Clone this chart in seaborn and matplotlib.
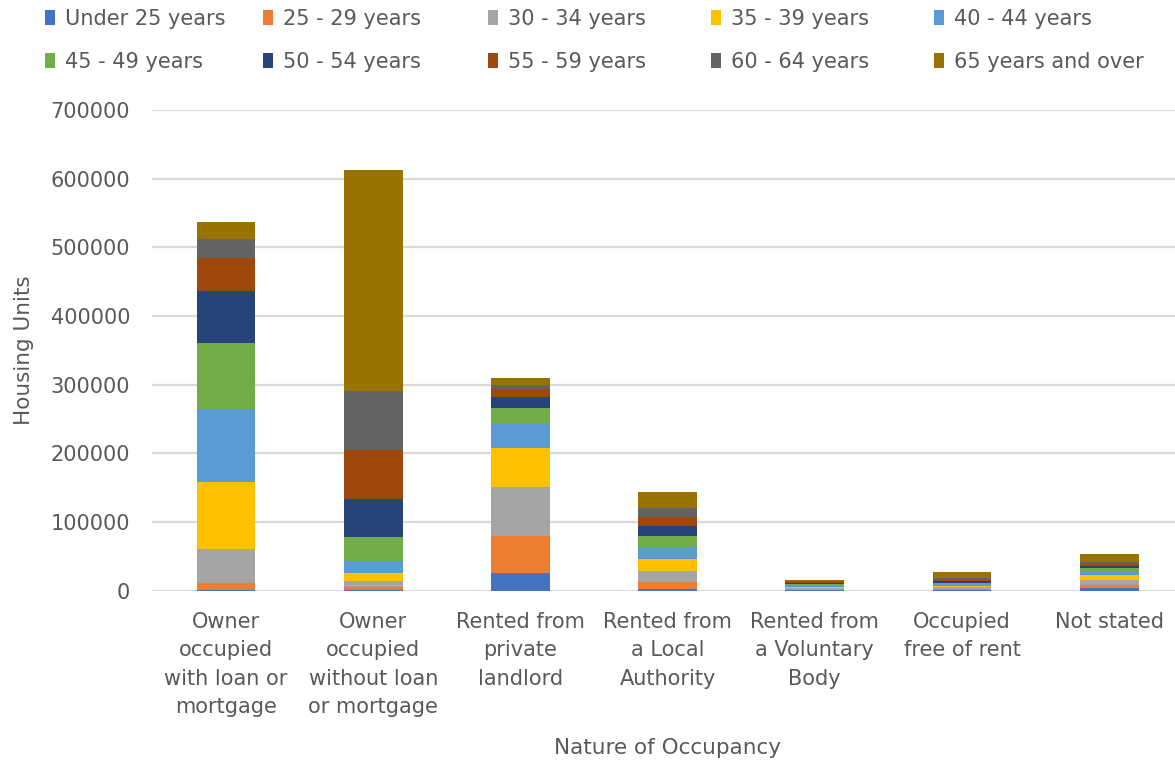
import numpy as np
import pandas as pd
import seaborn as sns
import matplotlib.pyplot as plt
from matplotlib.patches import Patch

categories = [
    "Owner\noccupied\nwith loan or\nmortgage",
    "Owner\noccupied\nwithout loan\nor mortgage",
    "Rented from\nprivate\nlandlord",
    "Rented from\na Local\nAuthority",
    "Rented from\na Voluntary\nBody",
    "Occupied\nfree of rent",
    "Not stated",
]
age_groups = ["Under 25 years", "25 - 29 years", "30 - 34 years", "35 - 39 years",
              "40 - 44 years", "45 - 49 years", "50 - 54 years", "55 - 59 years",
              "60 - 64 years", "65 years and over"]

under_25 = [1500, 500, 25400, 2900, 500, 700, 3500]
age_25_29 = [9300, 4500, 54700, 9800, 1200, 1500, 4800]
age_30_34 = [50400, 9100, 70600, 15600, 1800, 2900, 7300]
age_35_39 = [97200, 11300, 57200, 18300, 2200, 1900, 7300]
age_40_44 = [105900, 17900, 34600, 16600, 1900, 2500, 6300]
age_45_49 = [97100, 34500, 23300, 16500, 1500, 2300, 3500]
age_50_54 = [74800, 55400, 16400, 14600, 1400, 2300, 3400]
age_55_59 = [49000, 72300, 11700, 12700, 1500, 1500, 2900]
age_60_64 = [27300, 85900, 6300, 13100, 1500, 2500, 3400]
age_65_over = [23700, 321600, 9700, 23300, 2500, 8700, 10800]

series = [under_25, age_25_29, age_30_34, age_35_39, age_40_44,
          age_45_49, age_50_54, age_55_59, age_60_64, age_65_over]
colors = ["#4472C4", "#ED7D31", "#A5A5A5", "#FFC000", "#5B9BD5",
          "#70AD47", "#264478", "#9E480E", "#636363", "#997300"]

sns.set_theme(style="white")
plt.rcParams['font.family'] = ['DejaVu Sans']

W, H = 1175, 760
fig = plt.figure(figsize=(W / 100, H / 100), dpi=100)
left, right, top, bottom = 152.4, 1182.8, 110, 590.7
ax = fig.add_axes([left / W, 1 - bottom / H, (right - left) / W, (bottom - top) / H])

cum = np.cumsum(np.array(series, dtype=float), axis=0)
for i in range(len(series) - 1, -1, -1):
    df = pd.DataFrame({"cat": categories, "val": cum[i]})
    sns.barplot(data=df, x="cat", y="val", color=colors[i], width=0.4,
                saturation=1, ax=ax, linewidth=0, order=categories)

ax.set_ylim(0, 700000)
ax.set_xlim(-0.5, 6.5)
ax.set_yticks(np.arange(0, 700001, 100000))
ax.yaxis.grid(True, color="#D9D9D9", linewidth=1.6)
ax.set_axisbelow(True)
for s in ax.spines.values():
    s.set_visible(False)
ax.tick_params(axis="both", colors="#595959", labelsize=15, length=0)
ax.tick_params(axis="x", pad=15)
ax.tick_params(axis="y", pad=16)
for lbl in ax.get_xticklabels():
    lbl.set_linespacing(1.54)
    lbl.set_va("top")
ax.set_xlabel("Nature of Occupancy", fontsize=15.5, color="#595959", labelpad=15)
ax.set_ylabel("Housing Units", fontsize=15.5, color="#595959", labelpad=12)

col_x = [45, 263, 488, 711, 934]
for c in range(5):
    idx = [c, c + 5]
    handles = [Patch(facecolor=colors[j], edgecolor="none") for j in idx]
    fig.legend(handles, [age_groups[j] for j in idx], loc="upper left",
               bbox_to_anchor=(col_x[c] / W, 1 - 9 / H), ncol=1,
               frameon=False, fontsize=15, labelcolor="#595959",
               handlelength=0.5, handleheight=0.75, handletextpad=0.45,
               labelspacing=1.1, borderpad=0, borderaxespad=0)

fig.savefig("out.png", dpi=100)
